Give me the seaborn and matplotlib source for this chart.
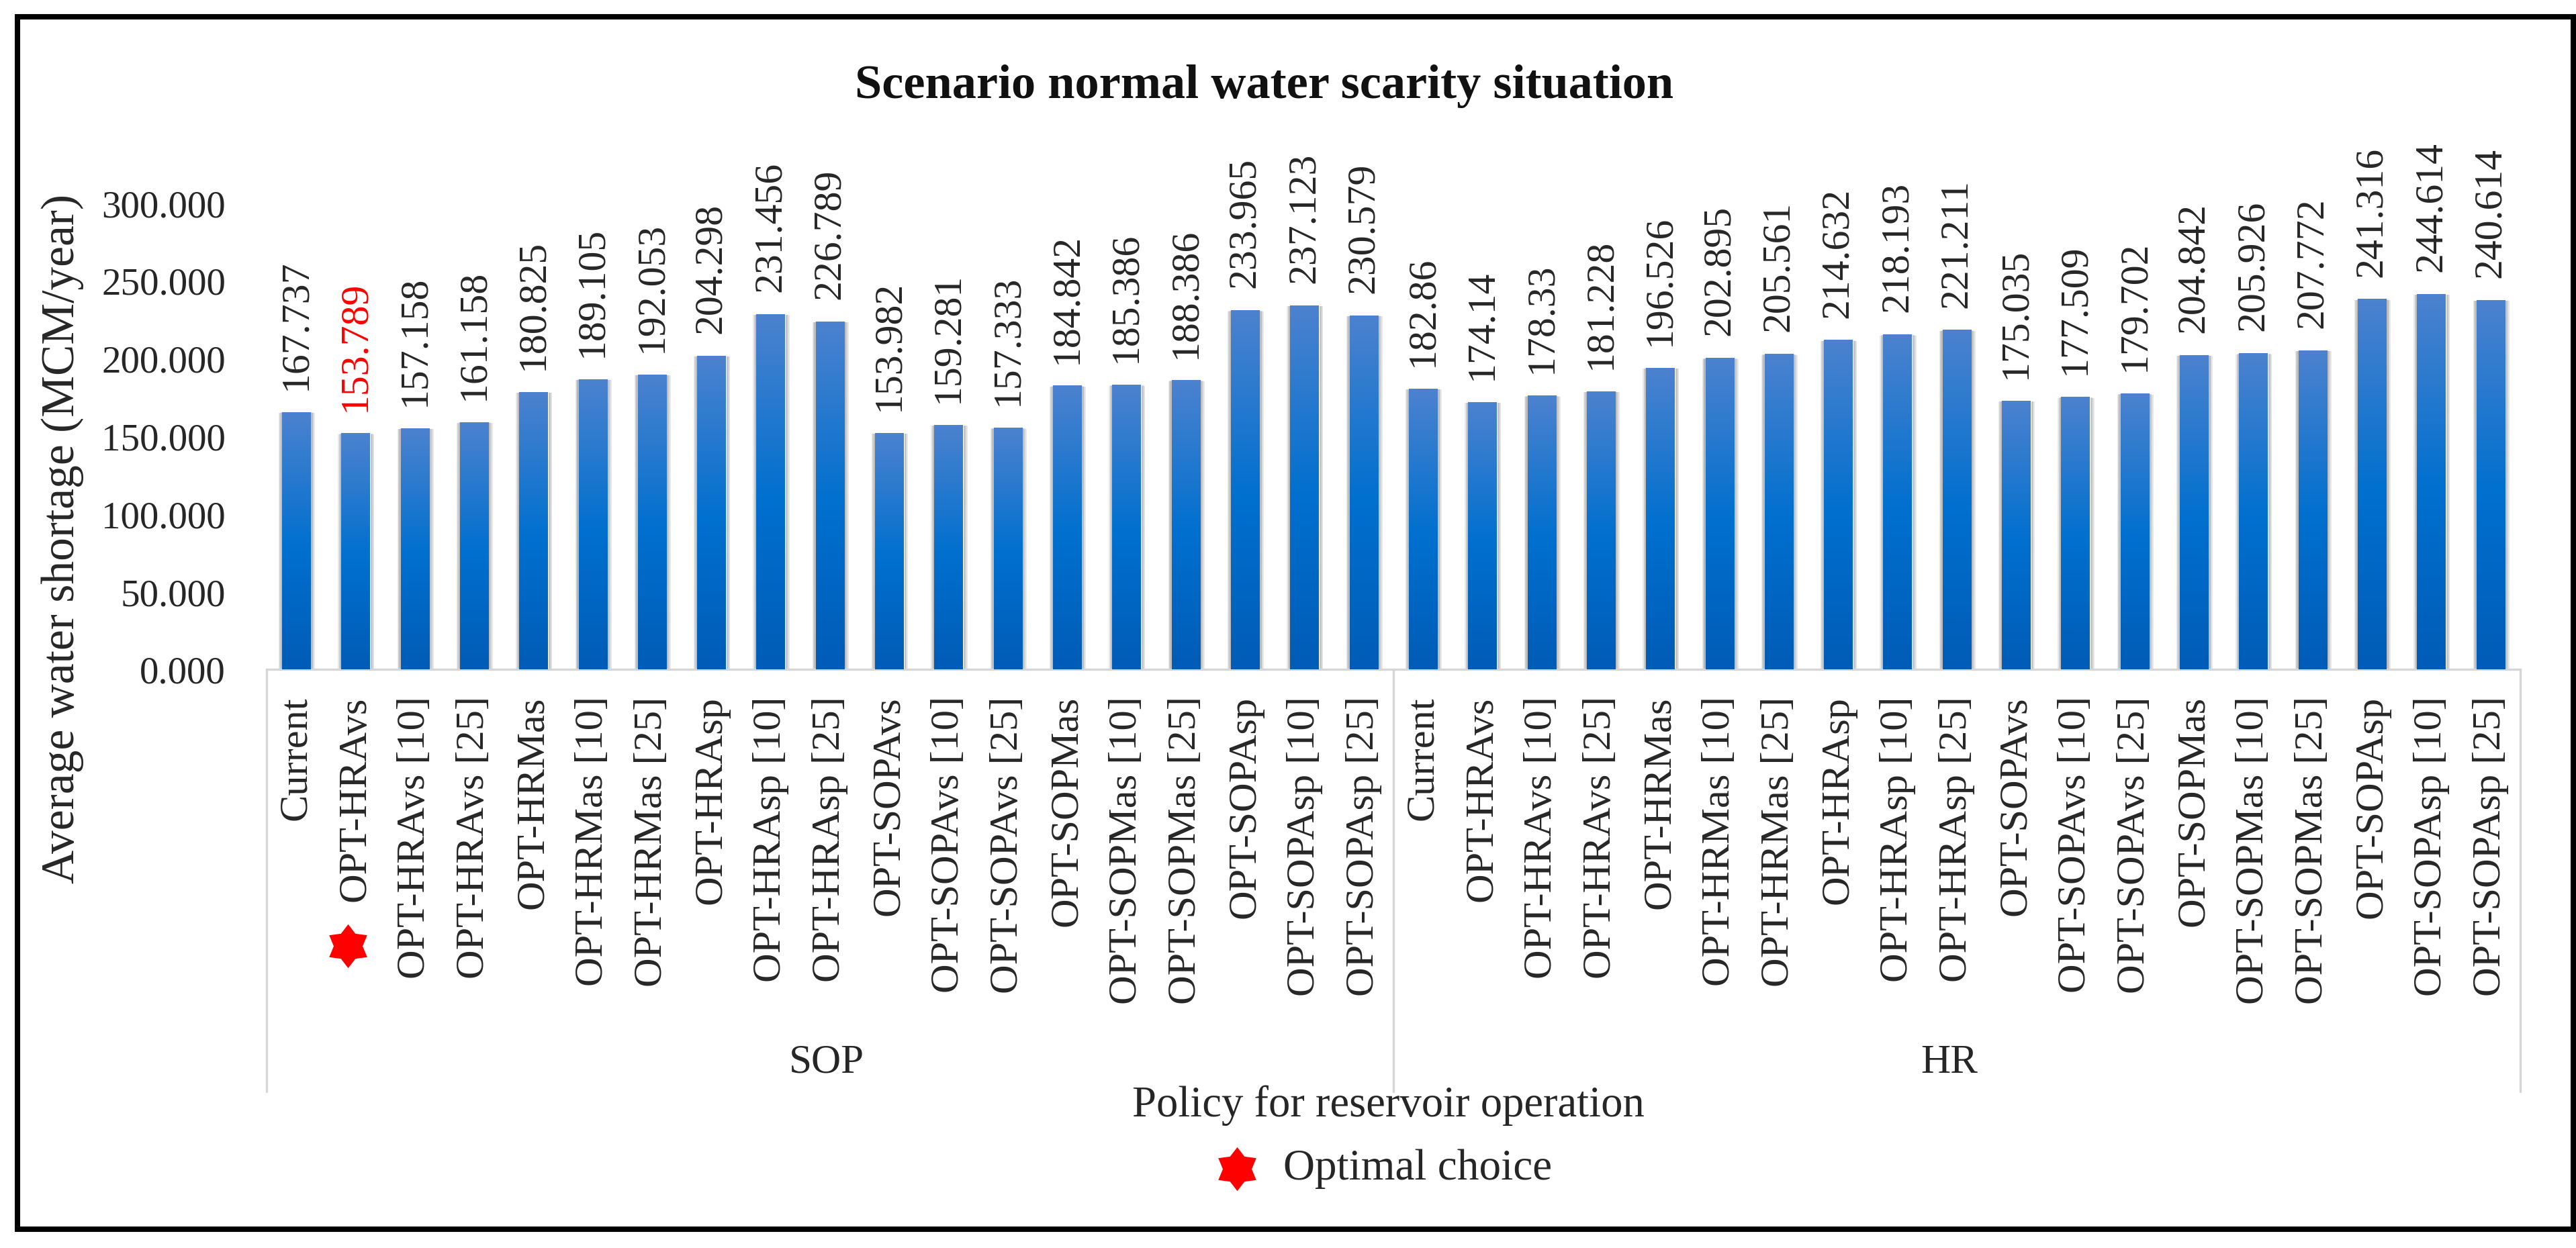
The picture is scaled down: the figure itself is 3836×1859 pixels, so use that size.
# Scenario normal water scarcity - average water shortage per reservoir policy

import numpy as np
import pandas as pd
import seaborn as sns
import matplotlib.pyplot as plt
from matplotlib.colors import LinearSegmentedColormap
from matplotlib.patches import Rectangle
from matplotlib.path import Path
from matplotlib.transforms import ScaledTranslation

# Data
policy_names = ["Current", "OPT-HRAvs", "OPT-HRAvs [10]", "OPT-HRAvs [25]", "OPT-HRMas", "OPT-HRMas [10]",
                "OPT-HRMas [25]", "OPT-HRAsp", "OPT-HRAsp [10]", "OPT-HRAsp [25]", "OPT-SOPAvs", "OPT-SOPAvs [10]",
                "OPT-SOPAvs [25]", "OPT-SOPMas", "OPT-SOPMas [10]", "OPT-SOPMas [25]", "OPT-SOPAsp",
                "OPT-SOPAsp [10]", "OPT-SOPAsp [25]"]
group_names = ["SOP", "HR"]
sop_values = [167.737, 153.789, 157.158, 161.158, 180.825, 189.105, 192.053, 204.298, 231.456, 226.789,
              153.982, 159.281, 157.333, 184.842, 185.386, 188.386, 233.965, 237.123, 230.579]
hr_values = [182.86, 174.14, 178.33, 181.228, 196.526, 202.895, 205.561, 214.632, 218.193, 221.211,
             175.035, 177.509, 179.702, 204.842, 205.926, 207.772, 241.316, 244.614, 240.614]
y_ticks = [0, 50, 100, 150, 200, 250, 300]
best_index = 1

W, H = 3836, 1859
n_sop = len(sop_values)
n_hr = len(hr_values)

df = pd.DataFrame({
    "slot": [f"{g}|{p}" for g, vals in zip(group_names, [sop_values, hr_values]) for p in policy_names[:len(vals)]],
    "policy": policy_names[:n_sop] + policy_names[:n_hr],
    "shortage": sop_values + hr_values,
})

sns.set_theme(style="white")
plt.rcParams["font.family"] = ["Liberation Serif", "DejaVu Serif"]
text_color = "#262626"
line_color = "#d6d6d6"


def fx(x):
    return x / W


def fy(y):
    return 1 - y / H


fig = plt.figure(figsize=(W / 100, H / 100), dpi=100, facecolor="white")
ax = fig.add_axes([fx(397), fy(997), fx(3753) - fx(397), fy(312) - fy(997)])

sns.barplot(data=df, x="slot", y="shortage", order=list(df["slot"]), width=0.48, color="#0070cc",
            saturation=1, ax=ax, zorder=2)

# Excel-like gradient and soft shadow on each bar
ramp = LinearSegmentedColormap.from_list("bar", [(0, "#4c82ce"), (0.52, "#0070cf"), (1, "#005cb6")])
shade = np.linspace(0, 1, 256).reshape(-1, 1)
for patch in ax.containers[0]:
    x0, w, h = patch.get_x(), patch.get_width(), patch.get_height()
    for grow in [0.02, 0.045, 0.07, 0.095]:
        ax.add_patch(Rectangle((x0 - grow * 0.6, 0), w + grow * 1.4, h - grow * 4, color="#000000",
                               alpha=0.09, lw=0, zorder=1))
    ax.imshow(shade, cmap=ramp, extent=(x0, x0 + w, 0, h), aspect="auto", origin="upper", zorder=3)
ax.set_xlim(-0.5, len(df) - 0.5)
ax.set_ylim(0, 300)

# Value labels
value_labels = [str(v) for v in df["shortage"]]
labels = ax.bar_label(ax.containers[0], labels=value_labels, rotation=90, padding=24, fontsize=43,
                      color=text_color, zorder=4)
labels[best_index].set_color("#ff0000")

# Axes
ax.set_yticks(y_ticks)
ax.set_yticklabels([f"{t:.3f}" for t in y_ticks], fontsize=41, color=text_color)
ax.set_xticks(range(len(df)))
ax.set_xticklabels(df["policy"], rotation=90, fontsize=43.5, color=text_color, va="top", ha="center")
ax.tick_params(axis="y", length=0, pad=44)
ax.tick_params(axis="x", length=0, pad=29)
ax.set_xlabel("")
ax.set_ylabel("")
# the reference's y labels are spaced slightly wider than its bars' scale
for lab, t in zip(ax.get_yticklabels(), y_ticks):
    lab.set_transform(lab.get_transform() + ScaledTranslation(0, (t / 30 - 1) / 100, fig.dpi_scale_trans))
sns.despine(ax=ax, left=True, top=True, right=True)
ax.spines["bottom"].set_color(line_color)
ax.spines["bottom"].set_linewidth(2.4)

# Group separators below the axis
for x in [0, 0.5, 1]:
    ax.plot([x, x], [0, -629 / 685], transform=ax.transAxes, color=line_color, lw=2.4, clip_on=False)

# Titles and group labels
fig.text(fx(1883), fy(146), "Scenario normal water scarity situation", fontsize=52, fontweight="bold",
         color="#111111", ha="center", va="baseline")
fig.text(fx(93), fy(803), "Average water shortage (MCM/year)", fontsize=50, rotation=90, color=text_color,
         ha="center", va="center")
fig.text(fx(1231), fy(1583), group_names[0], fontsize=44, color=text_color, ha="center", va="center")
fig.text(fx(2903), fy(1583), group_names[1], fontsize=44, color=text_color, ha="center", va="center")
fig.text(fx(2067), fy(1647), "Policy for reservoir operation", fontsize=46.5, color=text_color,
         ha="center", va="center")
fig.text(fx(1911), fy(1741), "Optimal choice", fontsize=47, color=text_color, ha="left", va="center")

# Red stars (on the optimal policy's label and in the key)
star = Path.unit_regular_star(6, innerCircle=0.66)
overlay = fig.add_axes([0, 0, 1, 1], facecolor="none")
overlay.set_xlim(0, W)
overlay.set_ylim(H, 0)
overlay.axis("off")
overlay.plot([518, 1842], [1409, 1741], ls="none", marker=star, ms=47, color="#ff0000", mew=0)

# Black frame
fig.add_artist(Rectangle((fx(26), fy(1831)), fx(3832) - fx(26), fy(25) - fy(1831), transform=fig.transFigure,
                         fill=False, ec="black", lw=5.8))

fig.savefig("out.png", dpi=100)
